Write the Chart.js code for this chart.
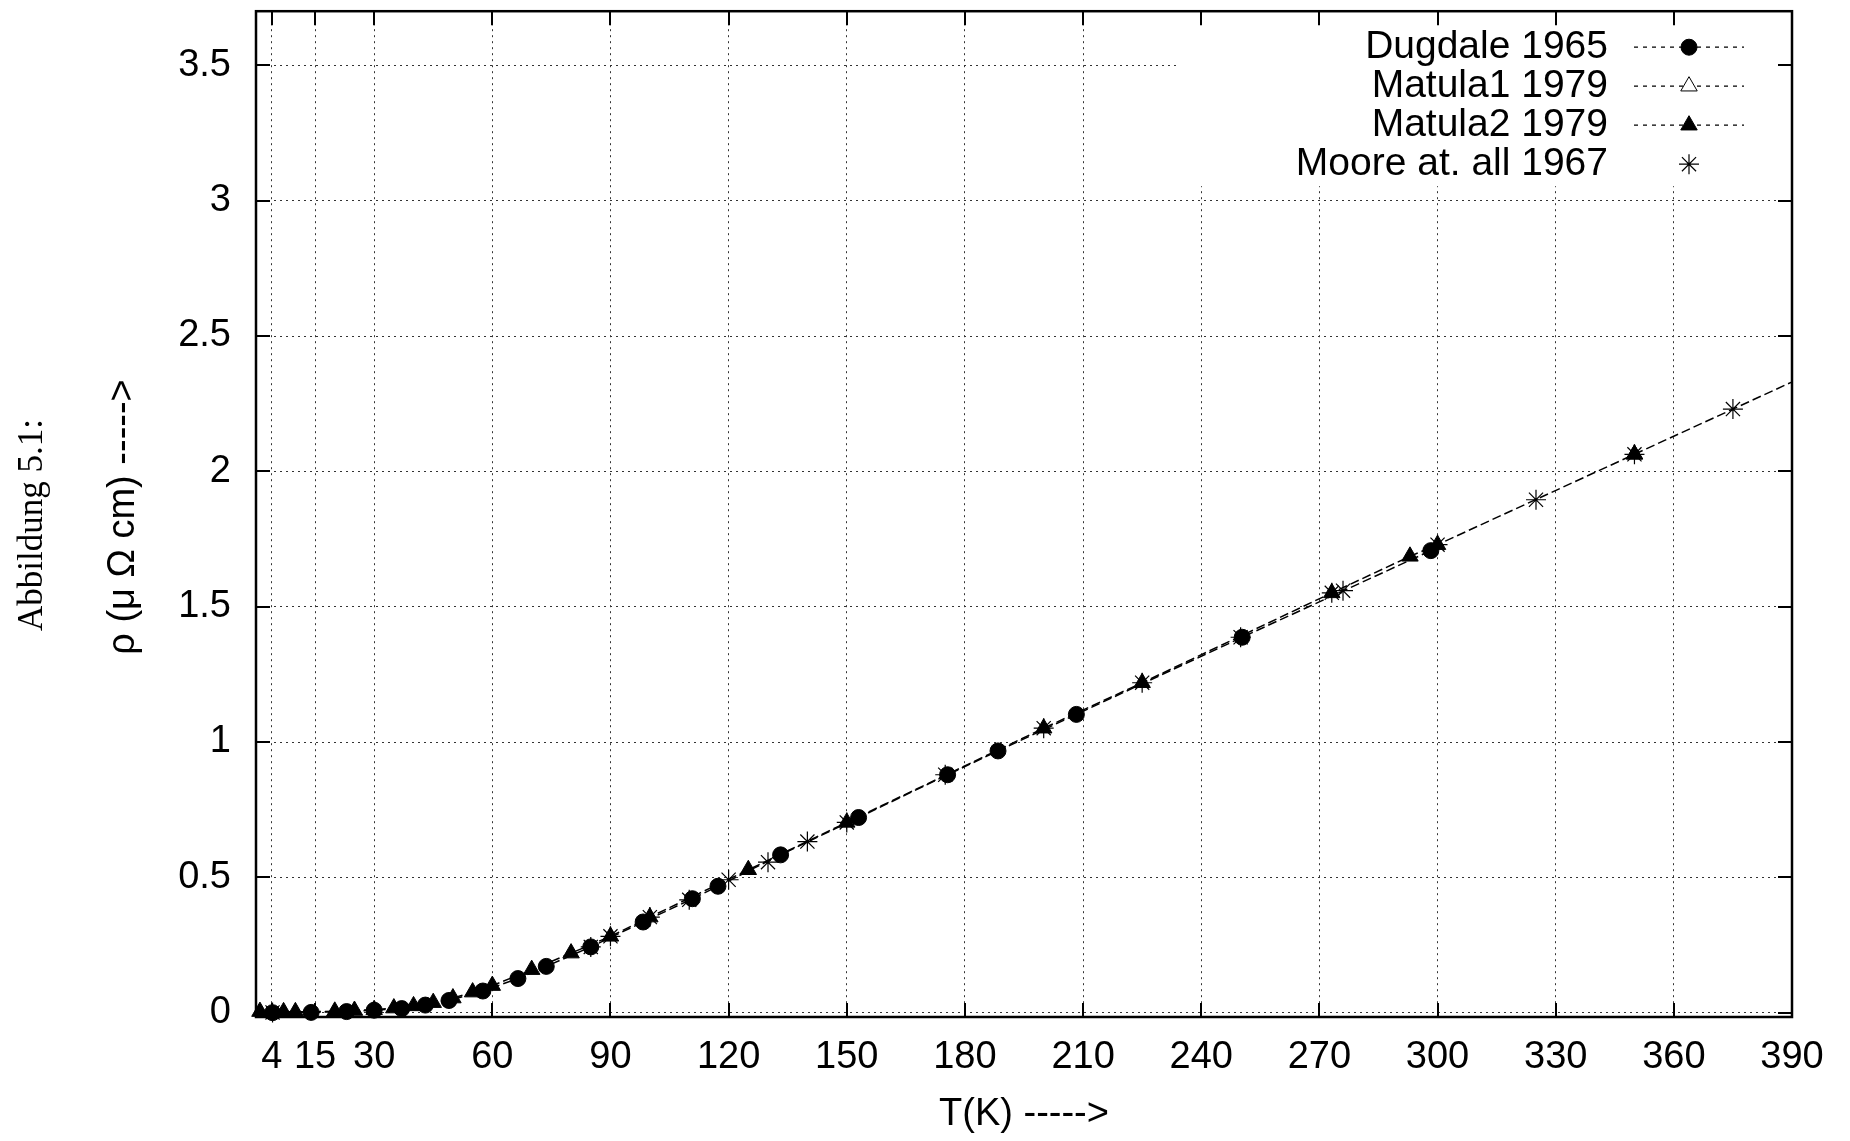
<!DOCTYPE html>
<html>
<head>
<meta charset="utf-8">
<script src="https://cdn.jsdelivr.net/npm/chart.js@4.4.1/dist/chart.umd.min.js"></script>
<style>
  html, body { margin: 0; padding: 0; background: #fff; }
  canvas { display: block; }
</style>
</head>
<body>
<canvas id="chart" width="1850" height="1141"></canvas>
<script>
// Resistivity readings, T in K, rho in micro-ohm cm
const dugdaleT   = [4.2, 14, 23, 30, 37, 43, 49, 57.6, 66.5, 73.7, 85, 98.3, 110.8, 117.3, 133.2, 153, 175.6, 188.4, 208.3, 250.4, 298.3];
const dugdaleRho = [0, 0.001, 0.004, 0.009, 0.015, 0.028, 0.045, 0.08, 0.126, 0.171, 0.243, 0.335, 0.421, 0.467, 0.583, 0.721, 0.879, 0.967, 1.102, 1.387, 1.707];

const matula1T   = [350, 400];
const matula1Rho = [2.063, 2.397];

const matula2T   = [1, 7, 10, 20, 25, 30, 35, 40, 45, 50, 55, 60, 70, 80, 90, 100, 125, 150, 200, 225, 273.15, 293, 300, 350];
const matula2Rho = [0.004, 0.003, 0.003, 0.005, 0.008, 0.011, 0.017, 0.025, 0.037, 0.054, 0.076, 0.1, 0.159, 0.22, 0.282, 0.353, 0.528, 0.703, 1.051, 1.219, 1.551, 1.686, 1.729, 2.063];

const mooreT   = [4.2, 85, 90, 100, 110, 120, 130, 140, 150, 175, 200, 225, 250, 273.15, 276, 300, 325, 350, 375];
const mooreRho = [0.001, 0.243, 0.282, 0.353, 0.417, 0.491, 0.556, 0.632, 0.703, 0.879, 1.051, 1.219, 1.387, 1.551, 1.559, 1.729, 1.895, 2.063, 2.23];

const xTicks = [4, 15, 30, 60, 90, 120, 150, 180, 210, 240, 270, 300, 330, 360, 390];
const yTicks = [0, 0.5, 1, 1.5, 2, 2.5, 3, 3.5];

const toPoints = (xs, ys) => xs.map((x, i) => ({ x, y: ys[i] }));

Chart.defaults.font.family = 'Liberation Sans';
Chart.defaults.font.size = 38;
Chart.defaults.color = '#000';

// common look of a gnuplot "linespoints" series
function series(label, xs, ys, style, extra) {
  return Object.assign({
    label,
    data: toPoints(xs, ys),
    showLine: true,
    borderColor: '#000',
    backgroundColor: '#000',
    borderWidth: 1.5,
    borderDash: [9, 4],
    pointStyle: style,
    pointRadius: 8,
    pointBorderWidth: 1,
    pointBorderColor: '#000',
    pointBackgroundColor: '#000',
    clip: { left: 12, top: 12, right: 0, bottom: 12 }
  }, extra);
}

// no extra room for the edge labels, the frame is placed by hand
function noEdgePadding(s) {
  s.paddingTop = 0;
  s.paddingBottom = 0;
  s.paddingLeft = 0;
  s.paddingRight = 0;
}

// border, inward ticks, cleared key area, titles and key
const gnuplotFrame = {
  id: 'gnuplotFrame',
  beforeDatasetsDraw(chart) {
    const { ctx, chartArea: a, scales: { x, y } } = chart;
    ctx.save();
    ctx.fillStyle = '#fff';
    ctx.fillRect(a.right - 612, a.top, 612, 175);

    ctx.strokeStyle = '#000';
    ctx.lineWidth = 2;
    ctx.setLineDash([]);
    ctx.beginPath();
    x.ticks.forEach(t => {
      const px = Math.round(x.getPixelForValue(t.value));
      ctx.moveTo(px, a.bottom); ctx.lineTo(px, a.bottom - 14);
      ctx.moveTo(px, a.top); ctx.lineTo(px, a.top + 14);
    });
    y.ticks.forEach(t => {
      const py = Math.round(y.getPixelForValue(t.value));
      ctx.moveTo(a.left, py); ctx.lineTo(a.left + 14, py);
      ctx.moveTo(a.right, py); ctx.lineTo(a.right - 14, py);
    });
    ctx.stroke();
    ctx.lineWidth = 2.5;
    ctx.strokeRect(a.left, a.top, a.right - a.left, a.bottom - a.top);
    ctx.restore();
  },
  afterDraw(chart) {
    const { ctx, chartArea: a } = chart;
    ctx.save();
    ctx.fillStyle = '#000';
    ctx.textBaseline = 'middle';
    ctx.textAlign = 'center';

    ctx.font = '38px "Liberation Sans"';
    ctx.fillText('T(K) ----->', (a.left + a.right) / 2, 1115);

    ctx.save();
    ctx.translate(124, 517);
    ctx.rotate(-Math.PI / 2);
    ctx.fillText('ρ (μ Ω cm) ----->', 0, 0);
    ctx.restore();

    ctx.save();
    ctx.translate(33, 525);
    ctx.rotate(-Math.PI / 2);
    ctx.font = '35px "Liberation Serif"';
    ctx.fillText('Abbildung 5.1:', 0, 0);
    ctx.restore();

    // key
    ctx.font = '39px "Liberation Sans"';
    const textRight = a.right - 184, lineL = a.right - 158, lineR = a.right - 48;
    const mid = (lineL + lineR) / 2;
    chart.data.datasets.forEach((ds, i) => {
      const yy = a.top + 36 + i * 39;
      ctx.textAlign = 'right';
      ctx.fillStyle = '#000';
      ctx.fillText(ds.label, textRight, yy);
      if (ds.showLine) {
        ctx.save();
        ctx.strokeStyle = '#000';
        ctx.lineWidth = 1.2;
        ctx.setLineDash([4, 5]);
        ctx.beginPath();
        ctx.moveTo(lineL, yy); ctx.lineTo(lineR, yy);
        ctx.stroke();
        ctx.restore();
      }
      ctx.save();
      ctx.setLineDash([]);
      ctx.fillStyle = ds.pointBackgroundColor;
      ctx.strokeStyle = ds.pointBorderColor;
      ctx.lineWidth = ds.pointBorderWidth;
      Chart.helpers.drawPoint(ctx, {
        pointStyle: ds.pointStyle, rotation: 0,
        radius: ds.pointRadius, borderWidth: ds.pointBorderWidth
      }, mid, yy);
      ctx.restore();
    });
    ctx.restore();
  }
};

new Chart(document.getElementById('chart'), {
  type: 'scatter',
  data: {
    datasets: [
      series('Dugdale 1965', dugdaleT, dugdaleRho, 'circle', { order: 3 }),
      series('Matula1 1979', matula1T, matula1Rho, 'triangle',
        { order: 2, pointRadius: 9.5, pointBackgroundColor: '#fff' }),
      series('Matula2 1979', matula2T, matula2Rho, 'triangle', { order: 1, pointRadius: 9.5 }),
      series('Moore at. all 1967', mooreT, mooreRho, 'star',
        { order: 0, showLine: false, pointRadius: 10, pointBorderWidth: 1.2, pointBackgroundColor: 'rgba(0,0,0,0)' })
    ]
  },
  options: {
    responsive: false,
    animation: false,
    devicePixelRatio: 1,
    layout: { padding: { left: 0, right: 58, top: 8, bottom: 0 } },
    plugins: { legend: { display: false }, tooltip: { enabled: false } },
    scales: {
      x: {
        type: 'linear',
        min: 0,
        max: 390,
        afterBuildTicks: s => { s.ticks = xTicks.map(v => ({ value: v })); },
        afterFit: s => { s.height = 124; noEdgePadding(s); },
        ticks: { autoSkip: false, maxRotation: 0, padding: 18, callback: v => String(v) },
        grid: { color: '#333', lineWidth: 1, drawTicks: false },
        border: { display: false, dash: [2, 4] }
      },
      y: {
        type: 'linear',
        min: -0.016,
        max: 3.7,
        afterBuildTicks: s => { s.ticks = yTicks.map(v => ({ value: v })); },
        afterFit: s => { s.width = 256; noEdgePadding(s); },
        ticks: { padding: 25, callback: v => String(v) },
        grid: { color: '#333', lineWidth: 1, drawTicks: false },
        border: { display: false, dash: [2, 4] }
      }
    }
  },
  plugins: [gnuplotFrame]
});
</script>
</body>
</html>
